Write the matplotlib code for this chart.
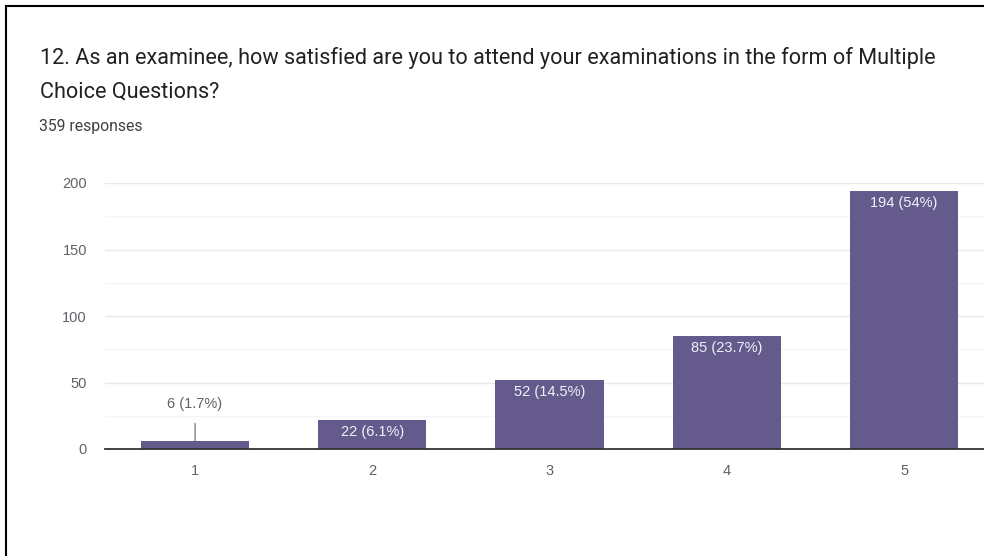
import matplotlib.pyplot as plt
from matplotlib.lines import Line2D

# data
ratings = [1, 2, 3, 4, 5]
counts = [6, 22, 52, 85, 194]
pct_labels = ['1.7%', '6.1%', '14.5%', '23.7%', '54%']

title = ('12. As an examinee, how satisfied are you to attend your examinations in the form of Multiple\n'
         'Choice Questions?')
subtitle = '359 responses'

bar_col = '#645a8c'
grey = '#5f6368'
lbl_font = ['Liberation Sans', 'DejaVu Sans']

plt.rcParams['font.family'] = ['Roboto', 'DejaVu Sans']

fig = plt.figure(figsize=(9.84, 5.56), dpi=100)
ax = fig.add_axes([105/984, (556-449)/556, (984-105)/984, (449-183)/556])

ax.bar(ratings, counts, width=0.61, color=bar_col, zorder=3)
ax.set_xlim(0.492, 5.451)
ax.set_ylim(0, 200)
ax.set_yticks([0, 50, 100, 150, 200])
ax.set_yticks([25, 75, 125, 175], minor=True)
ax.set_xticks(ratings)
ax.grid(axis='y', which='major', color='#e8e8e8', lw=1, zorder=0)
ax.grid(axis='y', which='minor', color='#f4f4f4', lw=1, zorder=0)
ax.tick_params(which='both', length=0, colors=grey, labelsize=10.5)
ax.tick_params(axis='y', pad=13)
ax.tick_params(axis='x', pad=11)
for t in ax.get_xticklabels() + ax.get_yticklabels():
    t.set_family(lbl_font)
for s in ['top', 'right', 'left']:
    ax.spines[s].set_visible(False)
ax.spines['bottom'].set_color('#333333')
ax.spines['bottom'].set_linewidth(1.3)
ax.spines['bottom'].set_zorder(4)

# value labels
for x, c, p in zip(ratings, counts, pct_labels):
    txt = f'{c} ({p})'
    if c < 15:
        ax.annotate(txt, xy=(x, c), xytext=(x, c + 28), ha='center', va='center',
                    fontsize=10.5, color=grey, family=lbl_font,
                    arrowprops=dict(arrowstyle='-', color=grey, lw=0.8, shrinkA=7, shrinkB=0))
    else:
        ax.annotate(txt, xy=(x, c), xytext=(0, -9), textcoords='offset points',
                    ha='center', va='center', fontsize=10.5, color='#f2f0f8', family=lbl_font,
                    zorder=5)

fig.text(40/984, 1 - 75/556, title, fontsize=15.6, color='#202124', ha='left', va='center',
         linespacing=1.8)
fig.text(39/984, 1 - 126/556, subtitle, fontsize=11.3, color='#3c4043', ha='left', va='center')

# frame of the screenshot
fig.add_artist(Line2D([6/984, 6/984], [0, 1 - 6/556], color='black', lw=1.5, transform=fig.transFigure))
fig.add_artist(Line2D([6/984, 1], [1 - 6/556, 1 - 6/556], color='black', lw=1.5, transform=fig.transFigure))

fig.savefig('out.png', dpi=100)
